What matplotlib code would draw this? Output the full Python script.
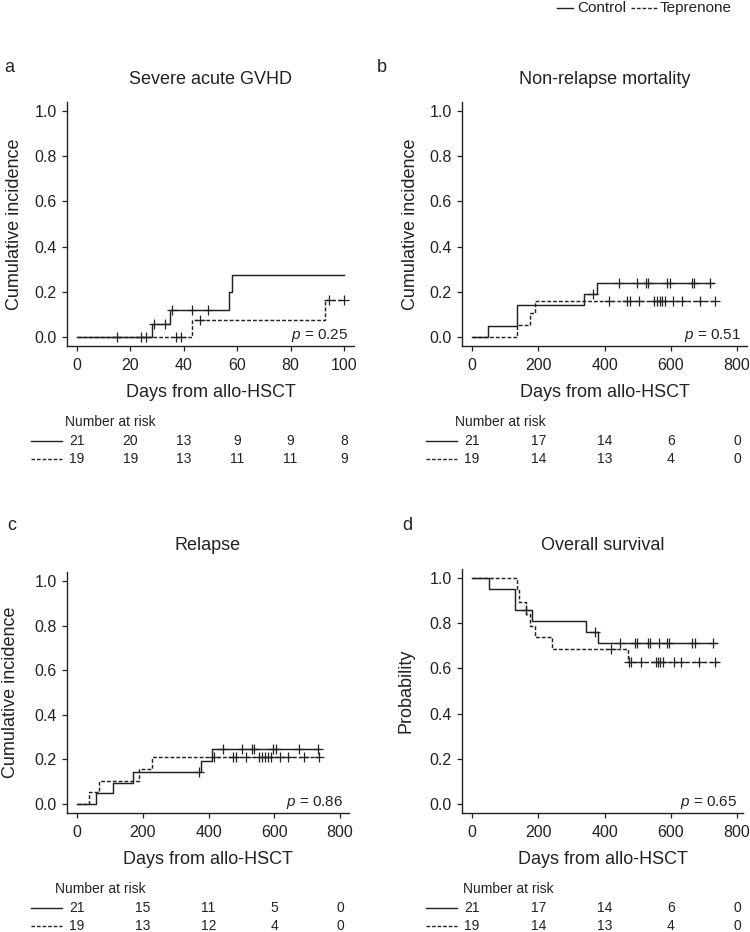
import numpy as np
import matplotlib
matplotlib.use('Agg')
import matplotlib.pyplot as plt
from matplotlib.lines import Line2D

plt.rcParams['font.family'] = ['Liberation Sans', 'DejaVu Sans']
plt.rcParams['mathtext.fontset'] = 'custom'
plt.rcParams['mathtext.rm'] = 'Liberation Sans'
plt.rcParams['mathtext.it'] = 'Liberation Sans:italic'

INK = '#222222'
W, H = 750, 932  # figure size in px

# ---- data ----
ticks_gvhd = [0, 20, 40, 60, 80, 100]
ticks_days = [0, 200, 400, 600, 800]
y_ticks = [0.0, 0.2, 0.4, 0.6, 0.8, 1.0]

# a: severe acute GVHD
gvhd_ctrl_t = [0, 28, 35, 57, 58, 100]
gvhd_ctrl_y = [0, 0.056, 0.118, 0.199, 0.275, 0.275]
gvhd_ctrl_cens = [15, 26, 28.8, 33, 35.6, 43, 49]
gvhd_tep_t = [0, 43, 93, 100]
gvhd_tep_y = [0, 0.077, 0.162, 0.162]
gvhd_tep_cens = [24, 37, 39, 46, 94.5, 100]
gvhd_risk_ctrl = [21, 20, 13, 9, 9, 8]
gvhd_risk_tep = [19, 19, 13, 11, 11, 9]

# b: non-relapse mortality
nrm_ctrl_t = [0, 48, 137, 337, 377, 727]
nrm_ctrl_y = [0, 0.048, 0.143, 0.19, 0.24, 0.24]
nrm_ctrl_cens = [365, 445, 497, 524, 532, 589, 597, 663, 669, 718]
nrm_tep_t = [0, 137, 175, 190, 734]
nrm_tep_y = [0, 0.053, 0.105, 0.158, 0.158]
nrm_tep_cens = [412, 469, 477, 504, 549, 559, 566, 574, 584, 608, 633, 688, 733]
nrm_risk_ctrl = [21, 17, 14, 6, 0]
nrm_risk_tep = [19, 14, 13, 4, 0]

# c: relapse
rel_ctrl_t = [0, 59, 110, 171, 377, 409, 737]
rel_ctrl_y = [0, 0.048, 0.095, 0.143, 0.195, 0.245, 0.245]
rel_ctrl_cens = [372, 445, 503, 533, 539, 597, 605, 675, 734]
rel_tep_t = [0, 35, 66, 189, 228, 739]
rel_tep_y = [0, 0.053, 0.105, 0.158, 0.21, 0.21]
rel_tep_cens = [417, 475, 483, 514, 554, 564, 572, 580, 589, 617, 643, 691, 737]
rel_risk_ctrl = [21, 15, 11, 5, 0]
rel_risk_tep = [19, 13, 12, 4, 0]

# d: overall survival
os_ctrl_t = [0, 51, 130, 180, 344, 381, 735]
os_ctrl_y = [1, 0.952, 0.857, 0.81, 0.762, 0.714, 0.714]
os_ctrl_cens = [163, 371, 446, 492, 499, 530, 538, 564, 589, 595, 665, 672, 728]
os_tep_t = [0, 135, 141, 164, 175, 190, 242, 471, 742]
os_tep_y = [1, 0.947, 0.895, 0.842, 0.789, 0.737, 0.684, 0.627, 0.627]
os_tep_cens = [419, 475, 481, 509, 554, 561, 569, 576, 610, 632, 685, 735]
os_risk_ctrl = [21, 17, 14, 6, 0]
os_risk_tep = [19, 14, 13, 4, 0]

DASH = (0, (2.6, 1.4))


def step_at(t, y, x):
    idx = np.searchsorted(t, x, side='right') - 1
    return np.asarray(y)[idx]


def curve(ax, t, y, cens, ls):
    ax.step(t, y, where='post', color=INK, lw=1.05, linestyle=ls)
    ax.plot(cens, step_at(t, y, cens), linestyle='none', marker='+',
            ms=7, mew=0.9, color=INK)


def panel(box, xlim, ticks, title, title_pad, ylabel, ylab_x, p_text,
          ctrl, tep, risk_ctrl, risk_tep, header_dx):
    left, right, top, bottom = box
    ax = fig.add_axes([left / W, 1 - bottom / H, (right - left) / W, (bottom - top) / H])
    axw, axh = right - left, bottom - top
    curve(ax, *ctrl, '-')
    curve(ax, *tep, DASH)

    ax.set_xlim(*xlim)
    ax.set_ylim(-0.04, 1.04)
    ax.set_xticks(ticks)
    ax.set_yticks(y_ticks)
    ax.set_yticklabels([f'{v:.1f}' for v in y_ticks])
    for s in ['top', 'right']:
        ax.spines[s].set_visible(False)
    for s in ['left', 'bottom']:
        ax.spines[s].set_linewidth(1.0)
        ax.spines[s].set_color(INK)
    ax.tick_params(direction='out', length=3.8, width=0.9, colors=INK,
                   labelsize=11.5, labelcolor=INK)
    ax.tick_params(axis='x', pad=4.5)
    ax.tick_params(axis='y', pad=3.5)

    ax.set_title(title, fontsize=13, color=INK, pad=title_pad)
    ax.set_ylabel(ylabel, fontsize=13, color=INK)
    ax.yaxis.set_label_coords(ylab_x, 0.5)
    ax.set_xlabel('Days from allo-HSCT', fontsize=13, color=INK)
    ax.xaxis.set_label_coords(0.5, -38 / axh)

    ax.text(1 - 6 / axw, 0.006, p_text, transform=ax.get_yaxis_transform(),
            ha='right', va='center', fontsize=11, color=INK)

    # number at risk table
    tr = ax.get_xaxis_transform()
    ax.text(header_dx / axw, -76 / axh, 'Number at risk', transform=ax.transAxes,
            ha='left', va='center', fontsize=10, color=INK)
    for dy, vals, ls in [(95, risk_ctrl, '-'), (113, risk_tep, DASH)]:
        yy = -dy / axh
        ax.plot([-36 / axw, -5 / axw], [yy, yy], transform=ax.transAxes,
                color=INK, lw=1.0, linestyle=ls, clip_on=False)
        for x, v in zip(ticks, vals):
            ax.text(x, yy, str(v), transform=tr, ha='center', va='center',
                    fontsize=10, color=INK)
    return ax


fig = plt.figure(figsize=(W / 100, H / 100), dpi=100)

panel((67, 354, 102, 346), (-3.75, 103.75), ticks_gvhd, 'Severe acute GVHD', 13.3,
      'Cumulative incidence', -0.155, r'$p$ = 0.25',
      (gvhd_ctrl_t, gvhd_ctrl_y, gvhd_ctrl_cens), (gvhd_tep_t, gvhd_tep_y, gvhd_tep_cens),
      gvhd_risk_ctrl, gvhd_risk_tep, -2)
panel((462, 747, 102, 346), (-30.2, 830), ticks_days, 'Non-relapse mortality', 13.3,
      'Cumulative incidence', -0.15, r'$p$ = 0.51',
      (nrm_ctrl_t, nrm_ctrl_y, nrm_ctrl_cens), (nrm_tep_t, nrm_tep_y, nrm_tep_cens),
      nrm_risk_ctrl, nrm_risk_tep, -7)
panel((67, 349, 572, 813), (-30.4, 827), ticks_days, 'Relapse', 16,
      'Cumulative incidence', -0.17, r'$p$ = 0.86',
      (rel_ctrl_t, rel_ctrl_y, rel_ctrl_cens), (rel_tep_t, rel_tep_y, rel_tep_cens),
      rel_risk_ctrl, rel_risk_tep, -12)
panel((462, 743, 569, 813), (-30.1, 818), ticks_days, 'Overall survival', 14,
      'Probability', -0.17, r'$p$ = 0.65',
      (os_ctrl_t, os_ctrl_y, os_ctrl_cens), (os_tep_t, os_tep_y, os_tep_cens),
      os_risk_ctrl, os_risk_tep, 1)

# panel letters
for letter, x, y in [('a', 9, 67), ('b', 382, 67), ('c', 12, 525), ('d', 407, 525)]:
    fig.text(x / W, 1 - y / H, letter, fontsize=13, color=INK, ha='center', va='center')

# legend at top right
ly = 1 - 8 / H
fig.add_artist(Line2D([557 / W, 573 / W], [ly, ly], color=INK, lw=1.0))
fig.text(577 / W, ly, 'Control', fontsize=11, color=INK, ha='left', va='center')
fig.add_artist(Line2D([631 / W, 657 / W], [ly, ly], color=INK, lw=1.0, linestyle=DASH))
fig.text(660 / W, ly, 'Teprenone', fontsize=11, color=INK, ha='left', va='center')

fig.savefig('out.png', dpi=100)
